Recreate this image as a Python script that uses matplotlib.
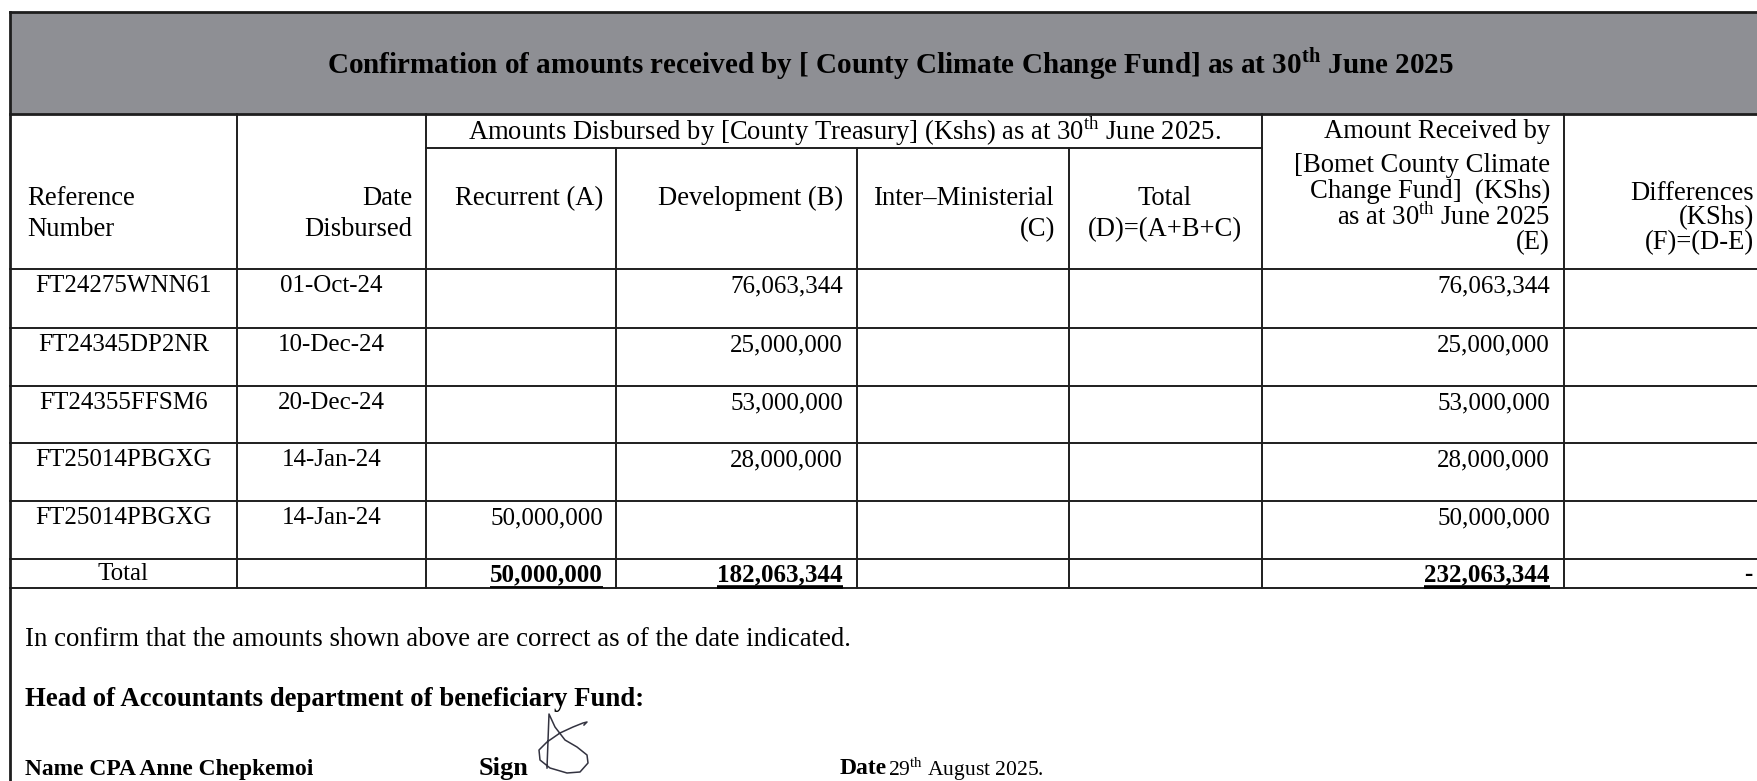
import matplotlib.pyplot as plt
from matplotlib.patches import Rectangle

plt.rcParams['font.family'] = ['Liberation Serif', 'DejaVu Serif']
plt.rcParams['mathtext.fontset'] = 'custom'
plt.rcParams['mathtext.rm'] = 'Liberation Serif'
plt.rcParams['mathtext.bf'] = 'Liberation Serif:bold'

# table content
title = r"Confirmation of amounts received by [ County Climate Change Fund] as at 30$^{\mathbf{th}}$ June 2025"
group_header = r"Amounts Disbursed by [County Treasury] (Kshs) as at 30$^{\rm th}$ June 2025."
received_header = ["Amount Received by", "[Bomet County Climate", "Change Fund]  (KShs)",
                   r"as at 30$^{\rm th}$ June 2025", "(E)"]
diff_header = ["Differences", "(KShs)", "(F)=(D-E)"]
ref_numbers = ["FT24275WNN61", "FT24345DP2NR", "FT24355FFSM6", "FT25014PBGXG", "FT25014PBGXG"]
dates = ["01-Oct-24", "10-Dec-24", "20-Dec-24", "14-Jan-24", "14-Jan-24"]
recurrent = [None, None, None, None, 50000000]
development = [76063344, 25000000, 53000000, 28000000, None]
received = [76063344, 25000000, 53000000, 28000000, 50000000]

confirm_text = "In confirm that the amounts shown above are correct as of the date indicated."
head_text = "Head of Accountants department of beneficiary Fund:"
name_text = "Name CPA Anne Chepkemoi"
sign_date = r"29$^{\rm th}$ August 2025."

# signature stroke (pixel coords of the scan)
sig_x = [547, 549, 555, 565, 577, 587, 588, 580, 567, 550, 540, 539, 547, 560, 573, 583, 587, 584]
sig_y = [768, 714, 727, 740, 747, 755, 763, 772, 773, 768, 760, 750, 742, 733, 727, 723, 722, 725]

W, H = 1758, 781
col_x = [10, 237, 426, 616, 857, 1069, 1262, 1564, 1775]
row_y = [269, 328, 386, 443, 501, 559, 588]
fs_head = 19.2
fs_body = 18
fs_foot = 19.3
lc = '#1e1e1e'
lw = 1.4

fig = plt.figure(figsize=(W / 100, H / 100), dpi=100)
ax = fig.add_axes([0, 0, 1, 1])
ax.set_xlim(0, W)
ax.set_ylim(H, 0)
ax.axis('off')

# shaded title band
ax.add_patch(Rectangle((10, 12), 1770, 102, facecolor='#8e8f94', edgecolor='none'))
ax.plot([10, W], [12, 12], color=lc, lw=2)
ax.plot([10, W], [114, 114], color=lc, lw=2)
ax.plot([10, 10], [12, H], color=lc, lw=2)
ax.text(890, 64, title, fontsize=21, fontweight='bold', ha='center', va='center')

# grid lines
ax.plot([426, 1262], [148, 148], color=lc, lw=lw)
for y in row_y:
    ax.plot([10, W], [y, y], color=lc, lw=lw)
for i, x in enumerate(col_x[1:-1], start=1):
    top = 148 if i in (3, 4, 5) else 114
    ax.plot([x, x], [top, row_y[-1]], color=lc, lw=lw)

# header texts
ax.text(844, 131, group_header, fontsize=fs_head, ha='center', va='center')
ax.text(27, 198.5, "Reference", fontsize=fs_head, ha='left', va='center')
ax.text(27, 230, "Number", fontsize=fs_head, ha='left', va='center')
ax.text(412, 198.5, "Date", fontsize=fs_head, ha='right', va='center')
ax.text(412, 230, "Disbursed", fontsize=fs_head, ha='right', va='center')
ax.text(603, 198.5, "Recurrent (A)", fontsize=fs_head, ha='right', va='center')
ax.text(843, 198.5, "Development (B)", fontsize=fs_head, ha='right', va='center')
ax.text(1055, 198.5, "Inter\u2013Ministerial", fontsize=fs_head, ha='right', va='center')
ax.text(1055, 230, "(C)", fontsize=fs_head, ha='right', va='center')
ax.text(1165, 198.5, "Total", fontsize=fs_head, ha='center', va='center')
ax.text(1165, 230, "(D)=(A+B+C)", fontsize=fs_head, ha='center', va='center')
for s, y in zip(received_header, [131, 165, 191.5, 217.5, 243]):
    ax.text(1550, y, s, fontsize=fs_head, ha='right', va='center')
for s, y in zip(diff_header, [193.5, 217.5, 243]):
    ax.text(1754, y, s, fontsize=fs_head, ha='right', va='center')


def fmt(v):
    return "" if v is None else f"{v:,}"


# body rows
for i in range(len(ref_numbers)):
    y = row_y[i] + 17
    ax.text((col_x[0] + col_x[1]) / 2, y, ref_numbers[i], fontsize=fs_body, ha='center', va='center')
    ax.text((col_x[1] + col_x[2]) / 2, y, dates[i], fontsize=fs_body, ha='center', va='center')
    ax.text(col_x[3] - 13, y, fmt(recurrent[i]), fontsize=fs_body, ha='right', va='center')
    ax.text(col_x[4] - 14, y, fmt(development[i]), fontsize=fs_body, ha='right', va='center')
    ax.text(col_x[7] - 14, y, fmt(received[i]), fontsize=fs_body, ha='right', va='center')

# totals row
ty = (row_y[-2] + row_y[-1]) / 2 + 1
ax.text((col_x[0] + col_x[1]) / 2, ty, "Total", fontsize=fs_body, ha='center', va='center')
tot_rec = sum(v for v in recurrent if v)
tot_dev = sum(v for v in development if v)
tot_received = sum(received)
totals = [
    ax.text(col_x[3] - 13, ty, fmt(tot_rec), fontsize=fs_body, fontweight='bold', ha='right', va='center'),
    ax.text(col_x[4] - 14, ty, fmt(tot_dev), fontsize=fs_body, fontweight='bold', ha='right', va='center'),
    ax.text(col_x[7] - 14, ty, fmt(tot_received), fontsize=fs_body, fontweight='bold', ha='right', va='center'),
]
ax.text(1752, ty, "-", fontsize=fs_body, fontweight='bold', ha='right', va='center')

fig.canvas.draw()
renderer = fig.canvas.get_renderer()
for t, w in zip(totals, [1.3, 2.6, 2.6]):
    bb = t.get_window_extent(renderer)
    ax.plot([bb.x0, bb.x1], [H - bb.y0 + 1, H - bb.y0 + 1], color='black', lw=w, solid_capstyle='butt')

# footer
ax.text(25, 640, confirm_text, fontsize=fs_foot, ha='left', va='center')
ax.text(25, 699, head_text, fontsize=fs_foot, fontweight='bold', ha='left', va='center')
ax.text(25, 769, name_text, fontsize=16.9, fontweight='bold', ha='left', va='center')
ax.text(479, 769, "Sign", fontsize=19, fontweight='bold', ha='left', va='center')
ax.text(840, 769, "Date", fontsize=17, fontweight='bold', ha='left', va='center')
ax.text(888, 769, sign_date, fontsize=15.5, ha='left', va='center')
ax.plot(sig_x, sig_y, color='#333340', lw=1.1)

fig.savefig("out.png", dpi=100)
